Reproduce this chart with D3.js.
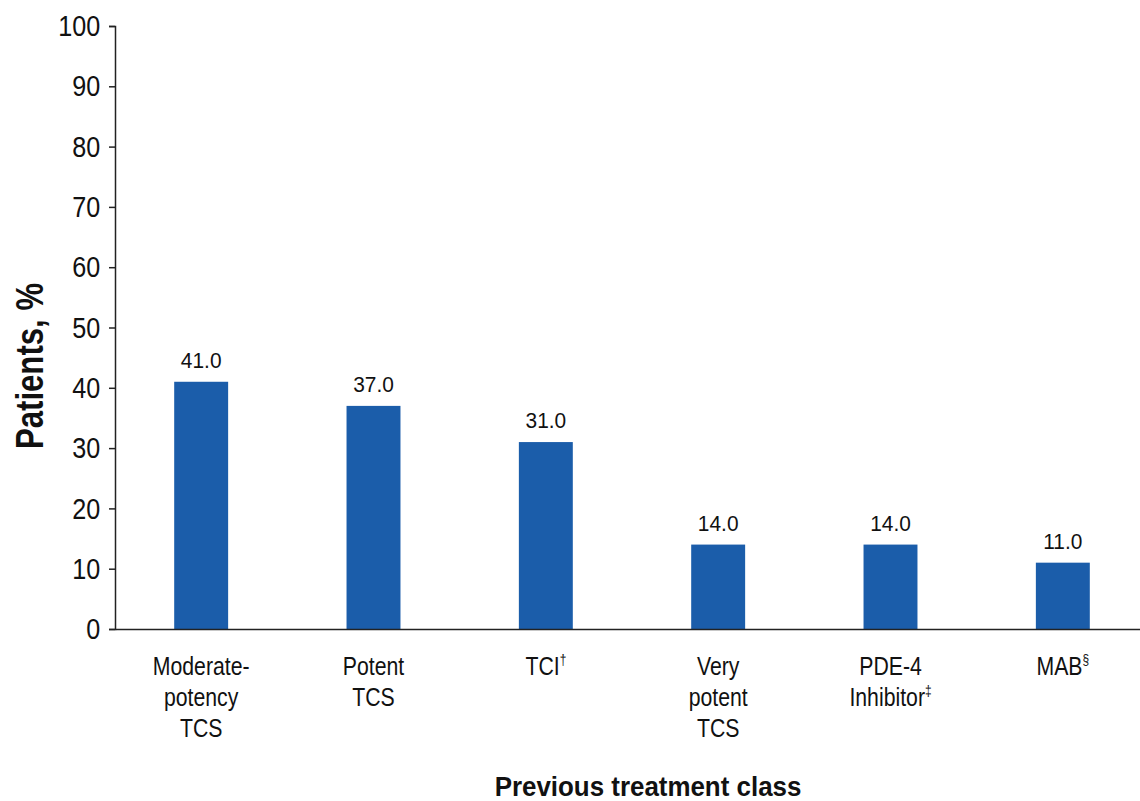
<!DOCTYPE html>
<html><head><meta charset="utf-8">
<script src="https://cdn.jsdelivr.net/npm/d3@7/dist/d3.min.js"></script>
<style>
body{margin:0;background:#fff;}
svg{display:block;font-family:"Liberation Sans",Arial,sans-serif;}
</style></head>
<body>
<svg id="c" width="1140" height="801"></svg>
<script>
const categories = ["Moderate-potency TCS","Potent TCS","TCI","Very potent TCS","PDE-4 Inhibitor","MAB"];
const labelLines = [["Moderate-","potency","TCS"],["Potent","TCS"],["TCI"],["Very","potent","TCS"],["PDE-4","Inhibitor"],["MAB"]];
const labelSup = ["","","†","","‡","§"];
const values = [41.0,37.0,31.0,14.0,14.0,11.0];
const yTicks = [0,10,20,30,40,50,60,70,80,90,100];

const svg = d3.select("#c");
const x = d3.scaleBand().domain(categories).range([115,1149]).paddingInner(0.687).paddingOuter(0.3435);
const y = d3.scaleLinear().domain([0,100]).range([629,26]);

// bars
svg.append("g").selectAll("rect").data(values).join("rect")
  .attr("x",(d,i)=>x(categories[i]))
  .attr("width",x.bandwidth())
  .attr("y",d=>y(d))
  .attr("height",d=>y(0)-y(d))
  .attr("fill","#1b5daa");

// value labels
svg.append("g").selectAll("text").data(values).join("text")
  .attr("transform",(d,i)=>`translate(${x(categories[i])+x.bandwidth()/2},${y(d)-14}) scale(0.95,1)`)
  .attr("text-anchor","middle")
  .attr("font-size",22)
  .attr("fill","#111")
  .text(d=>d.toFixed(1));

// y axis
const yAxis = d3.axisLeft(y).tickValues(yTicks).tickSize(6).tickPadding(11.5);
const gy = svg.append("g").attr("transform","translate(115,0)").call(yAxis);
gy.select(".domain").attr("stroke","#222").attr("stroke-width",1.5);
gy.selectAll(".tick line").attr("stroke","#222").attr("stroke-width",1.5);
gy.selectAll(".tick text").attr("font-size",30).attr("fill","#111").attr("font-family","inherit")
  .attr("transform","scale(0.84,1)");

// x axis line
const xAxis = d3.axisBottom(x).tickSize(0).tickFormat("");
const gx = svg.append("g").attr("transform","translate(0,629)").call(xAxis);
gx.select(".domain").attr("stroke","#222").attr("stroke-width",1.5);

// category labels
const lab = svg.append("g").selectAll("g").data(categories).join("g")
  .attr("transform",c=>`translate(${x(c)+x.bandwidth()/2},0) scale(0.85,1)`);
lab.each(function(c,i){
  const t=d3.select(this).append("text").attr("text-anchor","middle").attr("font-size",25).attr("fill","#111");
  labelLines[i].forEach((ln,j)=>{
    const ts=t.append("tspan").attr("x",0).attr("y",675+j*31).text(ln);
    if(j===labelLines[i].length-1 && labelSup[i]){
      ts.append("tspan").attr("font-size",14).attr("dy",-10).text(labelSup[i]);
    }
  });
});

// axis titles
svg.append("text").attr("transform","translate(648,796) scale(0.96,1)").attr("text-anchor","middle")
  .attr("font-size",27).attr("font-weight","bold").attr("fill","#111").text("Previous treatment class");
svg.append("text").attr("transform","translate(43,366) rotate(-90) scale(0.82,1)").attr("text-anchor","middle")
  .attr("font-size",38).attr("font-weight","bold").attr("fill","#111").text("Patients, %");
</script>
</body></html>
